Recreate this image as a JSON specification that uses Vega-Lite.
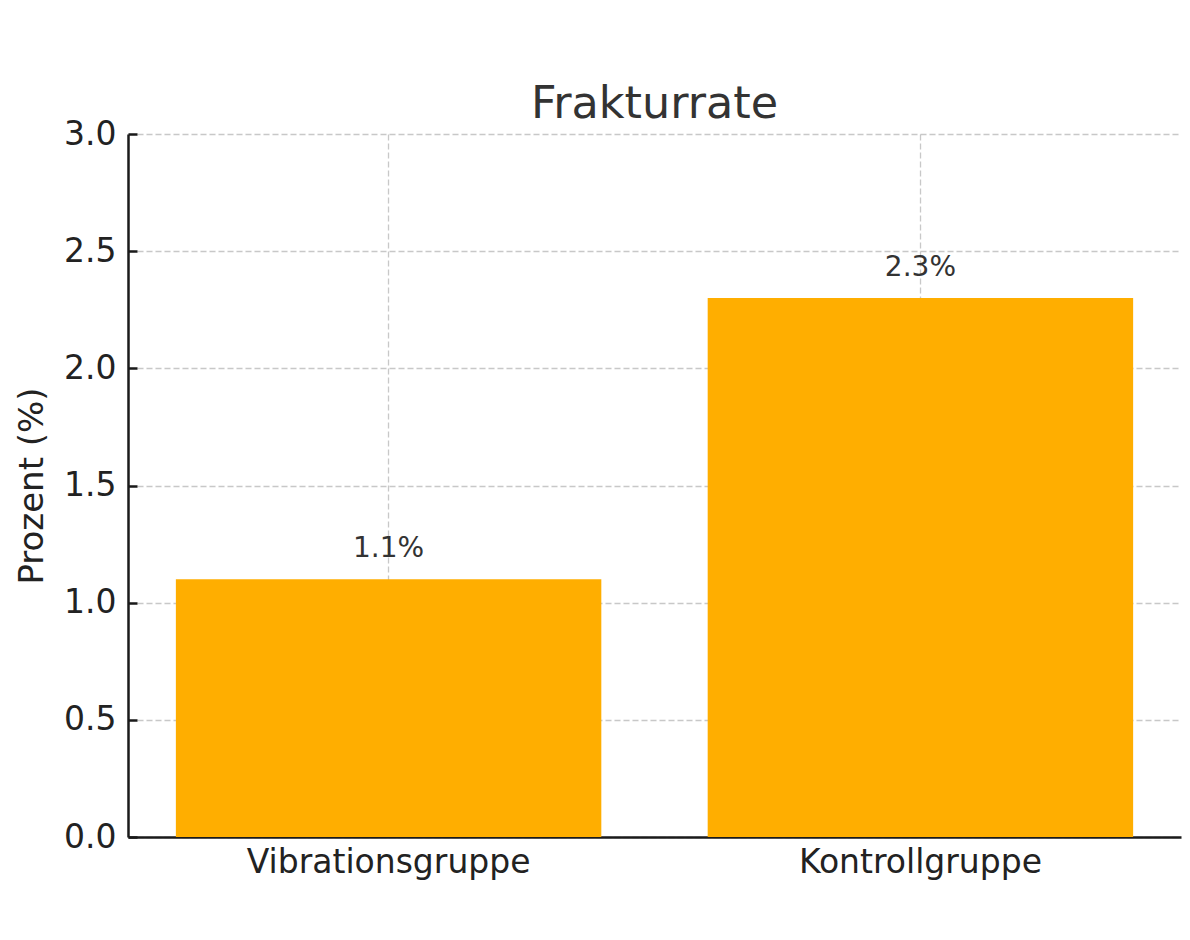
{
  "$schema": "https://vega.github.io/schema/vega-lite/v6.json",
  "width": 1053,
  "height": 703,
  "padding": {"left": 15, "top": 81, "right": 10, "bottom": 10},
  "background": "#ffffff",
  "title": {
    "text": "Frakturrate",
    "font": "DejaVu Sans",
    "fontSize": 44.5,
    "fontWeight": "normal",
    "color": "#333333",
    "anchor": "middle",
    "offset": -9
  },
  "config": {
    "view": {"stroke": null},
    "axis": {
      "labelFont": "DejaVu Sans",
      "titleFont": "DejaVu Sans",
      "labelFontSize": 33,
      "titleFontSize": 34,
      "titleFontWeight": "normal",
      "labelColor": "#222222",
      "titleColor": "#222222",
      "labelLimit": 0,
      "domainColor": "#1a1a1a",
      "domainWidth": 2.5,
      "tickColor": "#1a1a1a",
      "tickWidth": 2.5,
      "tickSize": -9,
      "labelPadding": 21,
      "grid": true,
      "gridColor": "#b0b0b0",
      "gridOpacity": 0.7,
      "gridWidth": 1.3,
      "gridDash": [6, 3],
      "zindex": 1
    }
  },
  "data": {
    "values": [
      {"gruppe": "Vibrationsgruppe", "prozent": 1.1, "label": "1.1%"},
      {"gruppe": "Kontrollgruppe", "prozent": 2.3, "label": "2.3%"}
    ]
  },
  "encoding": {
    "x": {
      "field": "gruppe",
      "type": "nominal",
      "sort": null,
      "scale": {"paddingInner": 0.2, "paddingOuter": 0.09},
      "axis": {"title": null, "labelAngle": 0, "bandPosition": 0.5, "labelPadding": 18}
    },
    "y": {
      "field": "prozent",
      "type": "quantitative",
      "scale": {"domain": [0, 3], "nice": false},
      "axis": {
        "title": "Prozent (%)",
        "values": [0, 0.5, 1, 1.5, 2, 2.5, 3],
        "format": ".1f",
        "titlePadding": 14
      }
    }
  },
  "layer": [
    {"mark": {"type": "bar", "color": "#ffae00"}},
    {
      "mark": {
        "type": "text",
        "font": "DejaVu Sans",
        "fontSize": 28,
        "color": "#333333",
        "baseline": "alphabetic",
        "dy": -22
      },
      "encoding": {"text": {"field": "label"}}
    }
  ]
}
